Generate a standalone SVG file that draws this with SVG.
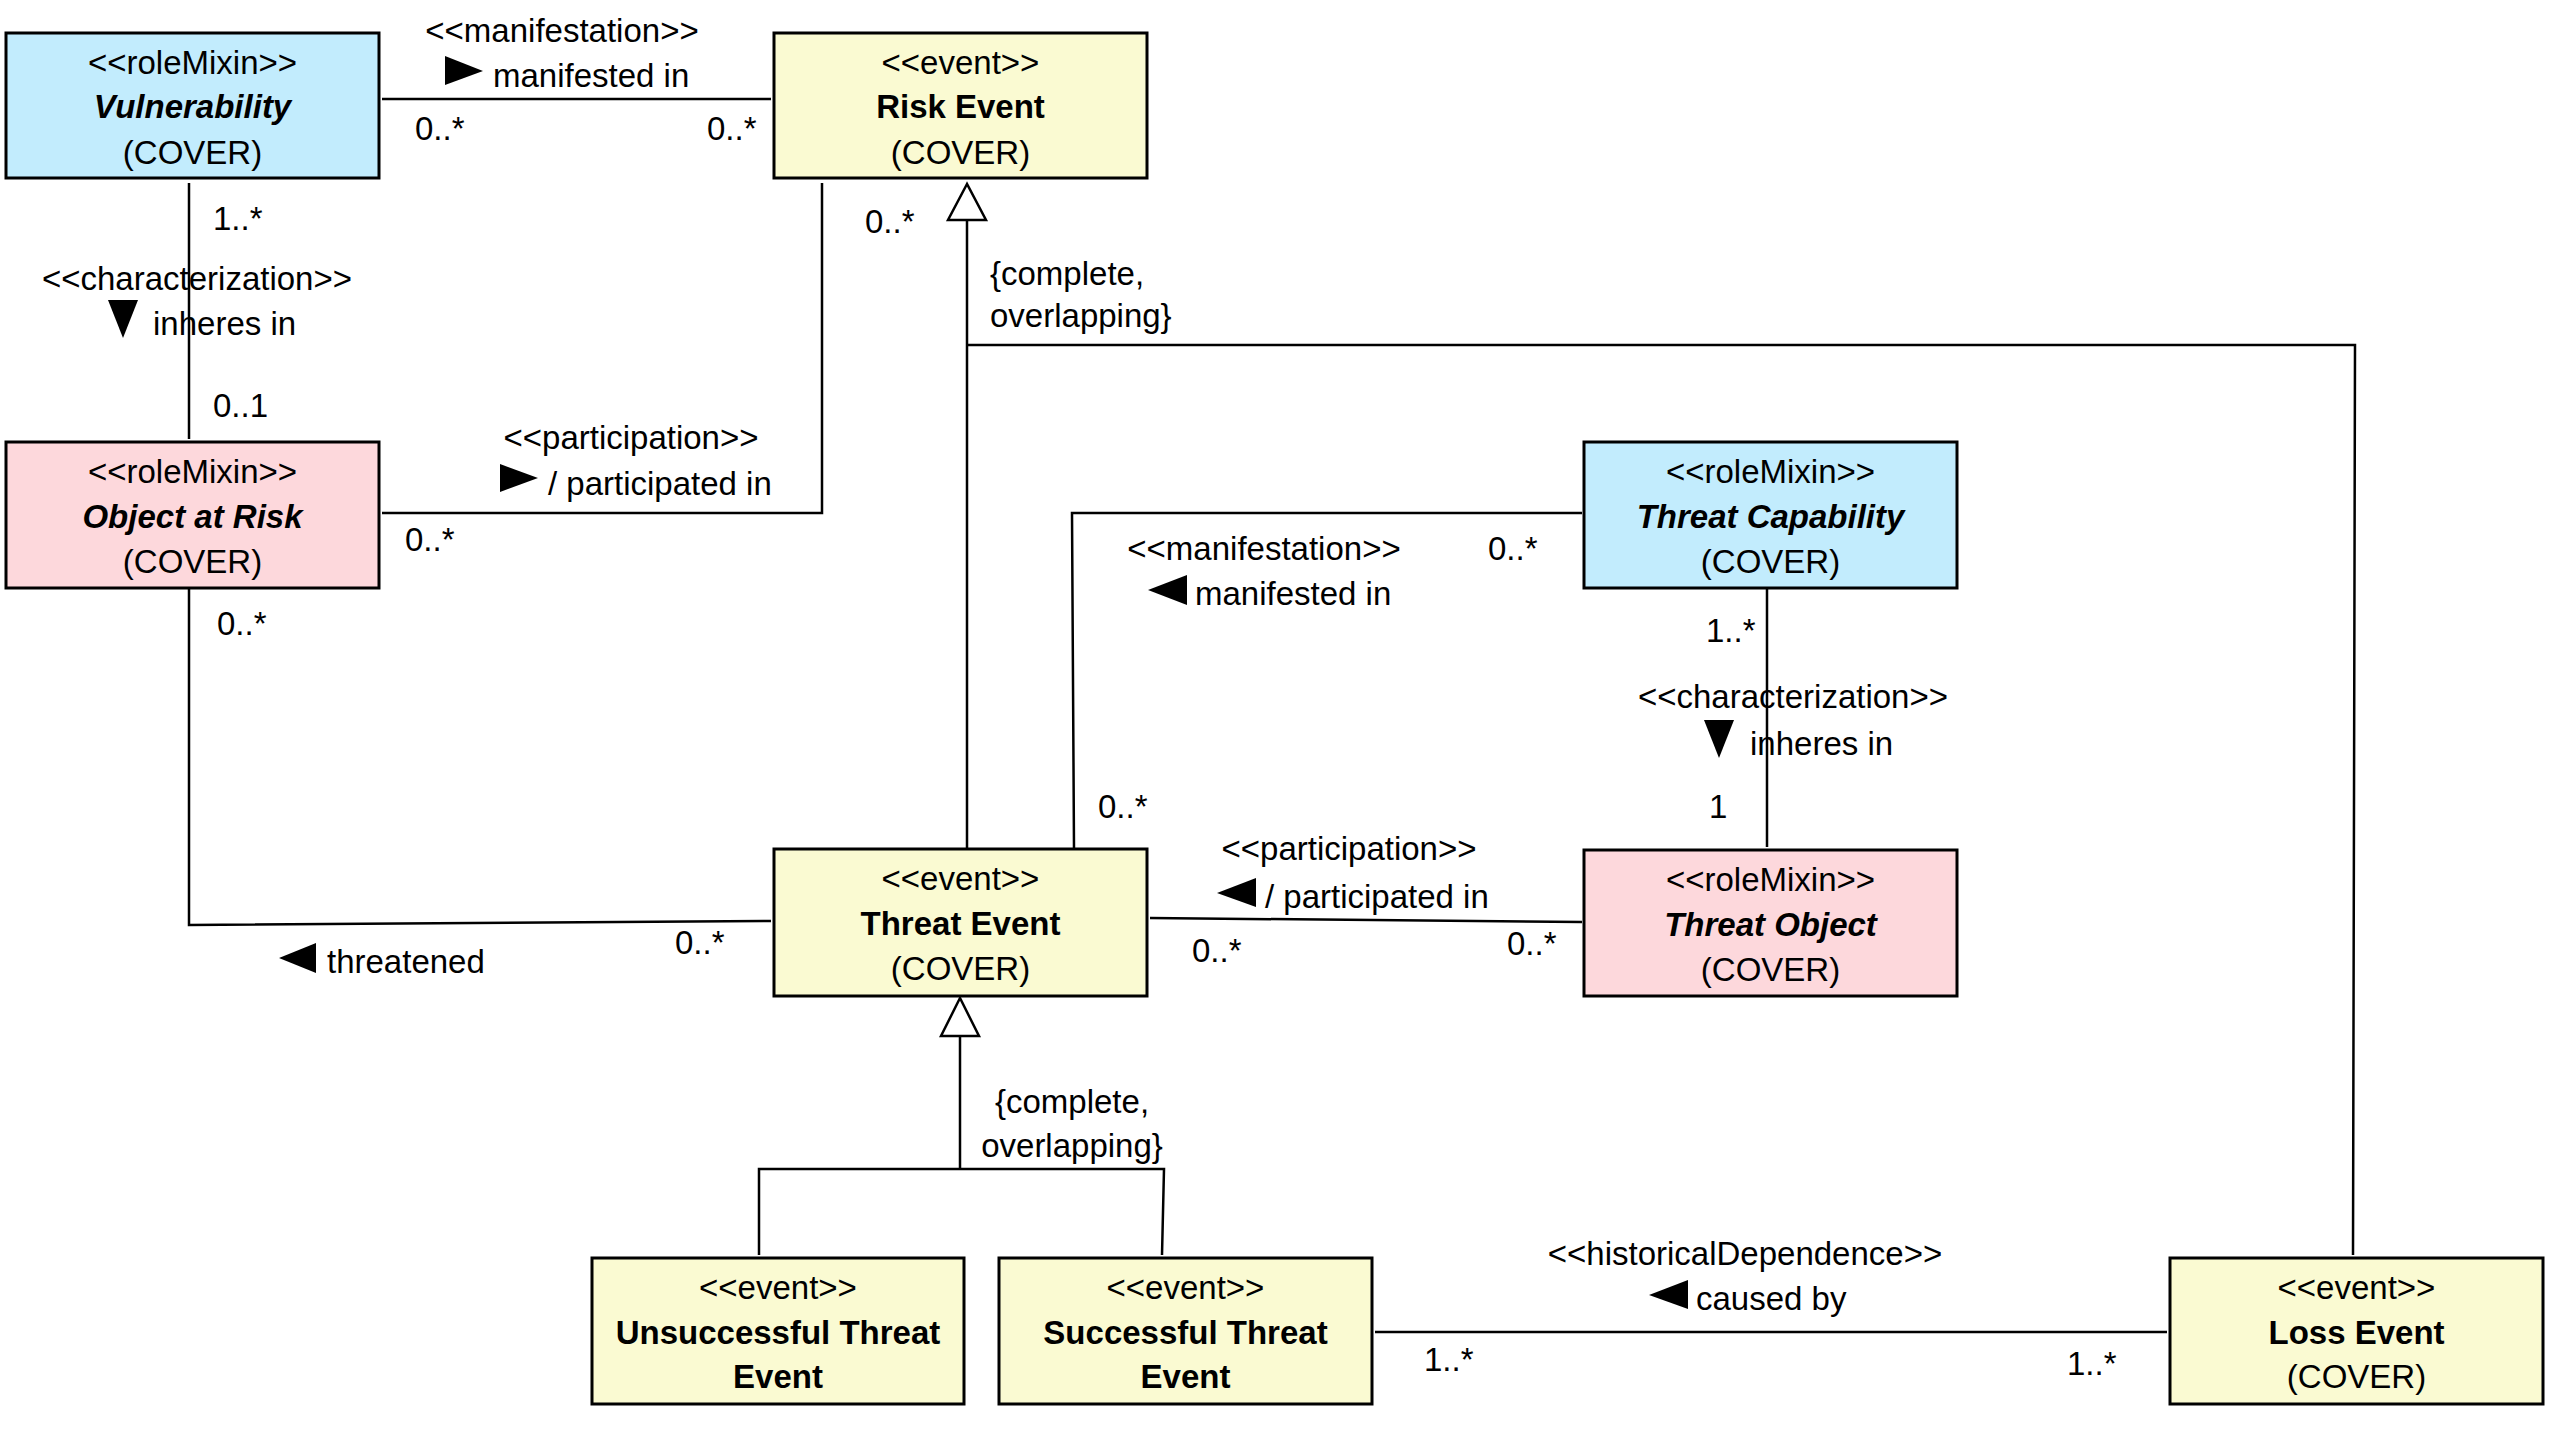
<svg xmlns="http://www.w3.org/2000/svg" width="2553" height="1449" viewBox="0 0 2553 1449">
<style>
text{font-family:"Liberation Sans",Arial,Helvetica,sans-serif;font-size:33px;fill:#000}
.c{text-anchor:middle}
.b{font-weight:bold}
.bi{font-weight:bold;font-style:italic}
.box{stroke:#000;stroke-width:3}
.blue{fill:#C2ECFD}
.pink{fill:#FDD8DC}
.yel{fill:#FAFAD2}
.ln{fill:none;stroke:#000;stroke-width:2.5}
.gen{fill:#fff;stroke:#000;stroke-width:2.5}
.dir{fill:#000}
</style>
<rect width="2553" height="1449" fill="#fff"/>
<g id="connectors">
  <!-- Vulnerability - Risk Event -->
  <line class="ln" x1="382" y1="99" x2="771" y2="99"/>
  <text class="c" x="562" y="42">&lt;&lt;manifestation&gt;&gt;</text>
  <polygon class="dir" points="445,56 483,71 445,85"/>
  <text x="493" y="87">manifested in</text>
  <text x="415" y="140">0..*</text>
  <text x="707" y="140">0..*</text>
  <!-- Vulnerability - Object at Risk -->
  <line class="ln" x1="189" y1="183" x2="189" y2="439"/>
  <text x="213" y="230">1..*</text>
  <text class="c" x="197" y="290">&lt;&lt;characterization&gt;&gt;</text>
  <polygon class="dir" points="108,300 138,300 123,338"/>
  <text x="153" y="335">inheres in</text>
  <text x="213" y="417">0..1</text>
  <!-- Object at Risk - Risk Event -->
  <polyline class="ln" points="382,513 822,513 822,183"/>
  <text class="c" x="631" y="449">&lt;&lt;participation&gt;&gt;</text>
  <polygon class="dir" points="500,464 538,478 500,492"/>
  <text x="548" y="495">/ participated in</text>
  <text x="405" y="551">0..*</text>
  <text x="865" y="233">0..*</text>
  <!-- Generalization to Risk Event -->
  <line class="ln" x1="967" y1="220" x2="967" y2="849"/>
  <polyline class="ln" points="967,345 2355,345 2353,1255"/>
  <polygon class="gen" points="967,184 948,220 986,220"/>
  <text x="990" y="285">{complete,</text>
  <text x="990" y="327">overlapping}</text>
  <!-- Threat Event - Threat Capability -->
  <polyline class="ln" points="1074,849 1072,513 1582,513"/>
  <text class="c" x="1264" y="560">&lt;&lt;manifestation&gt;&gt;</text>
  <polygon class="dir" points="1187,575 1148,590 1187,605"/>
  <text x="1195" y="605">manifested in</text>
  <text x="1488" y="560">0..*</text>
  <text x="1098" y="818">0..*</text>
  <!-- Threat Capability - Threat Object -->
  <line class="ln" x1="1767" y1="589" x2="1767" y2="847"/>
  <text x="1706" y="642">1..*</text>
  <text class="c" x="1793" y="708">&lt;&lt;characterization&gt;&gt;</text>
  <polygon class="dir" points="1704,720 1734,720 1719,758"/>
  <text x="1750" y="755">inheres in</text>
  <text x="1709" y="818">1</text>
  <!-- Threat Event - Threat Object -->
  <line class="ln" x1="1150" y1="918" x2="1582" y2="922"/>
  <text class="c" x="1349" y="860">&lt;&lt;participation&gt;&gt;</text>
  <polygon class="dir" points="1256,878 1217,893 1256,907"/>
  <text x="1265" y="908">/ participated in</text>
  <text x="1192" y="962">0..*</text>
  <text x="1507" y="955">0..*</text>
  <!-- Object at Risk - Threat Event -->
  <polyline class="ln" points="189,588 189,925 771,921"/>
  <polygon class="dir" points="316,943 279,958 316,973"/>
  <text x="327" y="973">threatened</text>
  <text x="675" y="954">0..*</text>
  <text x="217" y="635">0..*</text>
  <!-- Generalization to Threat Event -->
  <line class="ln" x1="960" y1="1036" x2="960" y2="1169"/>
  <polyline class="ln" points="759,1255 759,1169 1164,1169 1162,1255"/>
  <polygon class="gen" points="960,998 941,1036 979,1036"/>
  <text class="c" x="1072" y="1113">{complete,</text>
  <text class="c" x="1072" y="1157">overlapping}</text>
  <!-- Successful - Loss Event -->
  <line class="ln" x1="1375" y1="1332" x2="2167" y2="1332"/>
  <text class="c" x="1745" y="1265">&lt;&lt;historicalDependence&gt;&gt;</text>
  <polygon class="dir" points="1688,1280 1649,1295 1688,1309"/>
  <text x="1696" y="1310">caused by</text>
  <text x="1424" y="1371">1..*</text>
  <text x="2067" y="1375">1..*</text>
</g>
<g id="vulnerability">
  <rect class="box blue" x="6" y="33" width="373" height="145"/>
  <text class="c" x="192.5" y="74">&lt;&lt;roleMixin&gt;&gt;</text>
  <text class="c bi" x="192.5" y="118">Vulnerability</text>
  <text class="c" x="192.5" y="164">(COVER)</text>
</g>
<g id="risk-event">
  <rect class="box yel" x="774" y="33" width="373" height="145"/>
  <text class="c" x="960.5" y="74">&lt;&lt;event&gt;&gt;</text>
  <text class="c b" x="960.5" y="118">Risk Event</text>
  <text class="c" x="960.5" y="164">(COVER)</text>
</g>
<g id="object-at-risk">
  <rect class="box pink" x="6" y="442" width="373" height="146"/>
  <text class="c" x="192.5" y="483">&lt;&lt;roleMixin&gt;&gt;</text>
  <text class="c bi" x="192.5" y="528">Object at Risk</text>
  <text class="c" x="192.5" y="573">(COVER)</text>
</g>
<g id="threat-capability">
  <rect class="box blue" x="1584" y="442" width="373" height="146"/>
  <text class="c" x="1770.5" y="483">&lt;&lt;roleMixin&gt;&gt;</text>
  <text class="c bi" x="1770.5" y="528">Threat Capability</text>
  <text class="c" x="1770.5" y="573">(COVER)</text>
</g>
<g id="threat-event">
  <rect class="box yel" x="774" y="849" width="373" height="147"/>
  <text class="c" x="960.5" y="890">&lt;&lt;event&gt;&gt;</text>
  <text class="c b" x="960.5" y="935">Threat Event</text>
  <text class="c" x="960.5" y="980">(COVER)</text>
</g>
<g id="threat-object">
  <rect class="box pink" x="1584" y="850" width="373" height="146"/>
  <text class="c" x="1770.5" y="891">&lt;&lt;roleMixin&gt;&gt;</text>
  <text class="c bi" x="1770.5" y="936">Threat Object</text>
  <text class="c" x="1770.5" y="981">(COVER)</text>
</g>
<g id="unsuccessful-threat-event">
  <rect class="box yel" x="592" y="1258" width="372" height="146"/>
  <text class="c" x="778" y="1299">&lt;&lt;event&gt;&gt;</text>
  <text class="c b" x="778" y="1344">Unsuccessful Threat</text>
  <text class="c b" x="778" y="1388">Event</text>
</g>
<g id="successful-threat-event">
  <rect class="box yel" x="999" y="1258" width="373" height="146"/>
  <text class="c" x="1185.5" y="1299">&lt;&lt;event&gt;&gt;</text>
  <text class="c b" x="1185.5" y="1344">Successful Threat</text>
  <text class="c b" x="1185.5" y="1388">Event</text>
</g>
<g id="loss-event">
  <rect class="box yel" x="2170" y="1258" width="373" height="146"/>
  <text class="c" x="2356.5" y="1299">&lt;&lt;event&gt;&gt;</text>
  <text class="c b" x="2356.5" y="1344">Loss Event</text>
  <text class="c" x="2356.5" y="1388">(COVER)</text>
</g>
</svg>
